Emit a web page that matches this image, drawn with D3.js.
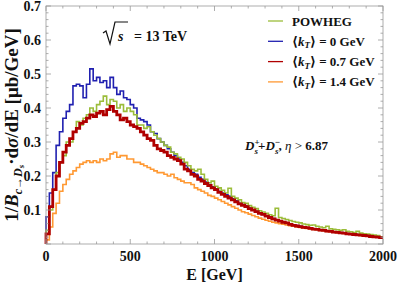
<!DOCTYPE html>
<html>
<head>
<meta charset="utf-8">
<script src="https://cdn.jsdelivr.net/npm/d3@7"></script>
<style>
  body { margin: 0; background: #fff; }
  text { font-family: "Liberation Serif", "DejaVu Serif", serif; font-weight: bold; fill: #111; }
</style>
</head>
<body>
<svg id="chart" width="399" height="287"></svg>
<script>
// bins of 20 GeV, 0 .. 2000
const binWidth = 20;
const powheg = [0.04,0.10,0.16,0.21,0.24,0.26,0.30,0.30,0.33,0.36,0.35,0.37,0.38,0.40,0.39,0.41,0.42,0.435,0.41,0.425,
  0.42,0.40,0.41,0.39,0.40,0.39,0.38,0.35,0.35,0.34,0.345,0.33,0.32,0.31,0.30,0.29,0.285,0.27,0.265,0.255,
  0.25,0.24,0.23,0.22,0.215,0.22,0.205,0.19,0.18,0.185,0.17,0.165,0.158,0.15,0.164,0.14,0.135,0.13,0.122,0.12,
  0.113,0.108,0.104,0.098,0.094,0.09,0.086,0.083,0.105,0.078,0.075,0.072,0.069,0.066,0.064,0.062,0.059,0.057,0.055,0.056,
  0.052,0.05,0.048,0.052,0.045,0.043,0.042,0.04,0.042,0.037,0.036,0.034,0.037,0.032,0.03,0.029,0.028,0.026,0.025,0.021];
const kt0 = [0.08,0.15,0.21,0.29,0.33,0.37,0.39,0.41,0.465,0.47,0.465,0.43,0.47,0.515,0.48,0.49,0.475,0.48,0.46,0.49,
  0.46,0.44,0.45,0.43,0.425,0.41,0.40,0.37,0.365,0.36,0.35,0.33,0.325,0.31,0.30,0.29,0.28,0.27,0.26,0.25,
  0.24,0.23,0.22,0.21,0.205,0.196,0.19,0.182,0.175,0.168,0.162,0.155,0.15,0.145,0.14,0.133,0.127,0.12,0.116,0.112,
  0.106,0.10,0.096,0.091,0.087,0.083,0.079,0.075,0.071,0.068,0.065,0.062,0.059,0.056,0.054,0.052,0.05,0.048,0.047,0.045,
  0.044,0.042,0.041,0.039,0.038,0.036,0.035,0.034,0.033,0.031,0.03,0.029,0.028,0.027,0.026,0.025,0.024,0.022,0.021,0.02];
const kt07 = [0.03,0.11,0.16,0.20,0.24,0.27,0.29,0.31,0.33,0.34,0.355,0.36,0.37,0.38,0.375,0.385,0.39,0.38,0.395,0.405,
  0.39,0.38,0.365,0.37,0.36,0.35,0.345,0.34,0.33,0.32,0.31,0.305,0.29,0.28,0.275,0.27,0.26,0.255,0.25,0.245,
  0.235,0.22,0.215,0.205,0.20,0.19,0.185,0.178,0.172,0.165,0.16,0.152,0.146,0.14,0.135,0.13,0.124,0.118,0.114,0.11,
  0.104,0.10,0.095,0.09,0.087,0.082,0.078,0.074,0.07,0.067,0.064,0.062,0.058,0.055,0.053,0.051,0.049,0.048,0.046,0.044,
  0.043,0.041,0.04,0.038,0.037,0.035,0.034,0.033,0.032,0.03,0.029,0.028,0.027,0.026,0.025,0.024,0.022,0.021,0.02,0.019];
const kt14 = [0.012,0.05,0.09,0.12,0.155,0.175,0.19,0.205,0.215,0.225,0.235,0.24,0.245,0.24,0.245,0.24,0.25,0.245,0.25,0.265,
  0.27,0.255,0.26,0.26,0.25,0.25,0.24,0.24,0.235,0.23,0.225,0.22,0.215,0.21,0.21,0.205,0.20,0.205,0.195,0.19,
  0.185,0.18,0.18,0.175,0.165,0.16,0.155,0.15,0.143,0.14,0.135,0.13,0.125,0.12,0.115,0.11,0.105,0.10,0.095,0.092,
  0.088,0.084,0.08,0.076,0.073,0.07,0.067,0.064,0.062,0.06,0.058,0.056,0.054,0.052,0.05,0.049,0.047,0.046,0.044,0.043,
  0.042,0.04,0.039,0.037,0.036,0.035,0.033,0.032,0.031,0.03,0.029,0.028,0.026,0.025,0.024,0.023,0.022,0.021,0.02,0.019];

const yTicks = [0.1, 0.2, 0.3, 0.4, 0.5, 0.6, 0.7];
const xTicks = [0, 500, 1000, 1500, 2000];

const series = [
  { name: "POWHEG", values: powheg, color: "#9bbd3a", width: 1.6 },
  { name: "kt0", values: kt0, color: "#2020b0", width: 1.6, label: "0" },
  { name: "kt07", values: kt07, color: "#b00000", width: 2.8, label: "0.7" },
  { name: "kt14", values: kt14, color: "#ff9933", width: 1.6, label: "1.4" }
];

const margin = { top: 6, right: 16, bottom: 43, left: 46 };
const width = 399, height = 287;

const svg = d3.select("#chart");

const xScale = d3.scaleLinear().domain([0, 2000]).range([margin.left, width - margin.right]);
const yScale = d3.scaleLinear().domain([0, 0.7]).range([height - margin.bottom, margin.top]);

// curves, drawn in order orange, blue, green, red
const stepPoints = vals => {
    const pts = [[0, 0]];
    vals.forEach((v, i) => { pts.push([i * binWidth, v]); pts.push([(i + 1) * binWidth, v]); });
    return pts;
};
const line = d3.line().x(d => xScale(d[0])).y(d => yScale(d[1]));

[series[3], series[1], series[0], series[2]].forEach(s => {
    svg.append("path")
        .attr("d", line(stepPoints(s.values)))
        .attr("fill", "none")
        .attr("stroke", s.color)
        .attr("stroke-width", s.width)
        .attr("stroke-linejoin", "miter");
});

// frame and ticks
const frame = svg.append("g").attr("stroke", "#999").attr("stroke-width", 0.8);
frame.append("rect")
    .attr("x", xScale(0)).attr("y", yScale(0.7))
    .attr("width", xScale(2000) - xScale(0)).attr("height", yScale(0) - yScale(0.7))
    .attr("fill", "none");

const yMinor = d3.range(0, 0.701, 0.02);
yMinor.forEach(v => {
    const major = Math.abs(v * 10 - Math.round(v * 10)) < 1e-6;
    const len = major ? 5 : 2.5;
    frame.append("line").attr("x1", xScale(0)).attr("x2", xScale(0) + len).attr("y1", yScale(v)).attr("y2", yScale(v));
    frame.append("line").attr("x1", xScale(2000)).attr("x2", xScale(2000) - len).attr("y1", yScale(v)).attr("y2", yScale(v));
});
const xMinor = d3.range(0, 2001, 100);
xMinor.forEach(v => {
    const len = v % 500 === 0 ? 5 : 2.5;
    frame.append("line").attr("y1", yScale(0)).attr("y2", yScale(0) - len).attr("x1", xScale(v)).attr("x2", xScale(v));
    frame.append("line").attr("y1", yScale(0.7)).attr("y2", yScale(0.7) + len).attr("x1", xScale(v)).attr("x2", xScale(v));
});

// tick labels
svg.append("g").selectAll("text").data(yTicks).enter().append("text")
    .attr("x", xScale(0) - 5).attr("y", d => yScale(d) + 4.5)
    .attr("text-anchor", "end").style("font-size", "14px")
    .text(d => d3.format(".1f")(d));
svg.append("g").selectAll("text").data(xTicks).enter().append("text")
    .attr("x", d => xScale(d)).attr("y", yScale(0) + 17)
    .attr("text-anchor", "middle").style("font-size", "14px")
    .text(d => d);

// axis labels
svg.append("text").attr("x", (xScale(0) + xScale(2000)) / 2).attr("y", 280)
    .attr("text-anchor", "middle").style("font-size", "16px").text("E [GeV]");

const yl = svg.append("text")
    .attr("transform", `translate(18, ${(yScale(0) + yScale(0.7)) / 2}) rotate(-90)`)
    .attr("text-anchor", "middle").style("font-size", "19px");
yl.append("tspan").text("1/");
yl.append("tspan").style("font-style", "italic").text("B");
yl.append("tspan").attr("dy", 4).style("font-size", "12px").style("font-style", "italic").text("c→D");
yl.append("tspan").attr("dy", 2).style("font-size", "9px").style("font-style", "italic").text("s");
yl.append("tspan").attr("dy", -6).text("·d");
yl.append("tspan").style("font-style", "italic").text("σ");
yl.append("tspan").text("/dE [μb/GeV]");

// sqrt(s) label
const rs = svg.append("g");
rs.append("path").attr("d", "M103,33 L106,31 L110,44 L115,22 L128,22")
    .attr("fill", "none").attr("stroke", "#111").attr("stroke-width", 1.2);
rs.append("text").attr("x", 118).attr("y", 41).style("font-size", "14px").style("font-style", "italic").text("s");
rs.append("text").attr("x", 134).attr("y", 41).style("font-size", "14px").text("= 13 TeV");

// legend
const legend = svg.append("g");
series.forEach((s, i) => {
    const y = 21 + i * 20.3;
    legend.append("line").attr("x1", 268).attr("x2", 283).attr("y1", y).attr("y2", y)
        .attr("stroke", s.color).attr("stroke-width", 1.3);
    const t = legend.append("text").attr("x", 292).attr("y", y + 4.5).style("font-size", "13px");
    if (!s.label) { t.text(s.name); return; }
    t.append("tspan").text("⟨");
    t.append("tspan").style("font-style", "italic").text("k");
    t.append("tspan").attr("dy", 2.5).style("font-size", "9px").style("font-style", "italic").text("T");
    t.append("tspan").attr("dy", -2.5).text("⟩ = " + s.label + " GeV");
});

// channel label
const ch = svg.append("text").attr("x", 245).attr("y", 150).style("font-size", "13px");
ch.append("tspan").style("font-style", "italic").text("D");
ch.append("tspan").attr("dy", -5).style("font-size", "9px").text("+");
ch.append("tspan").attr("dx", -5).attr("dy", 9).style("font-size", "9px").style("font-style", "italic").text("s");
ch.append("tspan").attr("dy", -4).text("+");
ch.append("tspan").style("font-style", "italic").text("D");
ch.append("tspan").attr("dy", -5).style("font-size", "9px").text("−");
ch.append("tspan").attr("dx", -5).attr("dy", 9).style("font-size", "9px").style("font-style", "italic").text("s");
ch.append("tspan").attr("dy", -4).text(",   ");
ch.append("tspan").style("font-style", "italic").style("font-weight", "normal").text("η");
ch.append("tspan").style("font-weight", "normal").text(" > ");
ch.append("tspan").text("6.87");
</script>
</body>
</html>
